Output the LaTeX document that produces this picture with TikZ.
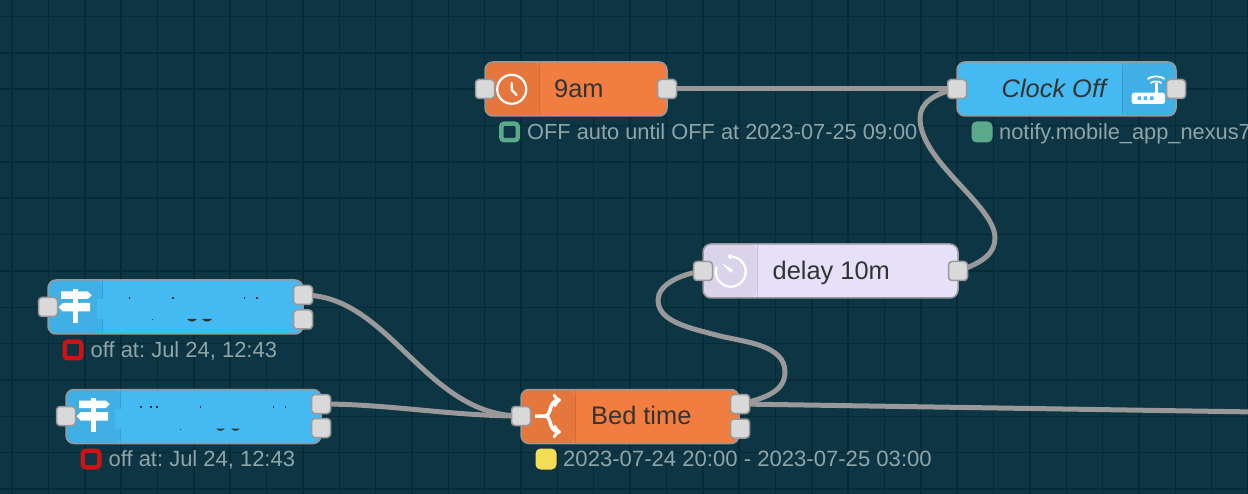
\documentclass[tikz,border=0pt]{standalone}
\usepackage{fontspec}
\setmainfont{Liberation Sans}
\frenchspacing
\usetikzlibrary{backgrounds}
\definecolor{bgteal}{HTML}{0D3543}
\definecolor{gridteal}{HTML}{072B36}
\definecolor{wiregrey}{HTML}{999999}
\definecolor{portgrey}{HTML}{D9D9D9}
\definecolor{nodeorange}{HTML}{F27D40}
\definecolor{nodeblue}{HTML}{44B9F2}
\definecolor{nodelilac}{HTML}{E6E0F8}
\definecolor{statusgreen}{HTML}{5BA98C}
\definecolor{statusred}{HTML}{CC1414}
\definecolor{statusyellow}{HTML}{F5DC55}
\definecolor{statustext}{HTML}{8FA5A7}
\definecolor{labeltext}{HTML}{333333}
\tikzset{
  nodebox/.style={draw=wiregrey, line width=1.5pt, rounded corners=8pt, inner sep=0pt, outer sep=0pt, minimum height=54pt},
  bandleft/.style={path picture={
    \fill[black, fill opacity=0.05] (path picture bounding box.north west) rectangle ([xshift=#1]path picture bounding box.south west);
    \draw[black, opacity=0.12, line width=1pt] ([xshift=#1]path picture bounding box.north west) -- ([xshift=#1]path picture bounding box.south west);}},
  bandright/.style={path picture={
    \fill[black, fill opacity=0.05] (path picture bounding box.north east) rectangle ([xshift=-#1]path picture bounding box.south east);
    \draw[black, opacity=0.12, line width=1pt] ([xshift=-#1]path picture bounding box.north east) -- ([xshift=-#1]path picture bounding box.south east);}},
  port/.style={draw=wiregrey, fill=portgrey, line width=1.5pt, rounded corners=3.5pt, minimum size=19pt, inner sep=0pt, outer sep=0pt},
  wire/.style={draw=wiregrey, line width=5pt},
  nodelabel/.style={anchor=base west, inner sep=0pt, text=labeltext, font=\fontsize{25.4}{25.4}\selectfont},
  statuslabel/.style={anchor=base west, inner sep=0pt, text=statustext, font=\fontsize{#1}{#1}\selectfont},
  statusdot/.style={fill=#1, rounded corners=5pt, minimum size=21pt, inner sep=0pt},
  statusring/.style={draw=#1, fill=bgteal, line width=4.5pt, rounded corners=3pt, minimum size=16.5pt, inner sep=0pt},
  icon/.style={draw=white, line width=2.2pt},
  speck/.style={fill=labeltext},
  signpost/.pic={
    \fill[white] (-2.5,-17) rectangle (2.5,17);
    \fill[white] (-14.5,-14.5) -- (12,-14.5) -- (16,-10.7) -- (12,-7) -- (-14.5,-7) -- cycle;
    \fill[white] (14.5,-3) -- (-13,-3) -- (-17,1.2) -- (-13,5.5) -- (14.5,5.5) -- cycle;
  }
}
\begin{document}
\begin{tikzpicture}[x=1pt, y=-1pt]
\useasboundingbox (0,0) rectangle (1248,494);

\node[nodebox, fill=nodeorange, minimum width=182pt, bandleft=54pt] (nineam) at (576,89) {};
\node[nodebox, fill=nodeblue, minimum width=219pt, bandright=54pt] (clockoff) at (1066.5,89) {};
\node[nodebox, fill=nodelilac, minimum width=255pt, bandleft=54pt] (delay) at (830.5,271) {};
\node[nodebox, fill=nodeorange, minimum width=218pt, bandleft=54pt] (bedtime) at (630,416.5) {};
\node[nodebox, fill=nodeblue, minimum width=255pt, bandleft=54.5pt] (switchone) at (175.5,307) {};
\node[nodebox, fill=nodeblue, minimum width=255pt, bandleft=54.5pt] (switchtwo) at (193.5,416.5) {};

\node[port] (nineamin) at (485,89) {};
\node[port] (nineamout) at (667,89) {};
\node[port] (clockin) at (957,89) {};
\node[port] (clockout) at (1176,89) {};
\node[port] (delayin) at (703,271) {};
\node[port] (delayout) at (958,271) {};
\node[port] (bedin) at (521,416) {};
\node[port] (bedouta) at (740,404) {};
\node[port] (bedoutb) at (740,428.5) {};
\node[port] (switchonein) at (48,307) {};
\node[port] (switchoneouta) at (303,295) {};
\node[port] (switchoneoutb) at (303,319.5) {};
\node[port] (switchtwoin) at (66,416) {};
\node[port] (switchtwoouta) at (321,404) {};
\node[port] (switchtwooutb) at (321,428) {};
\coordinate (offpage) at (1256,412);

\begin{pgfonlayer}{background}
\fill[bgteal] (0,0) rectangle (1248,494);
\foreach \gx in {0,...,34} \draw[gridteal, line width=1.5pt] ({12.1+36.35*\gx},0) -- ({12.1+36.35*\gx},494);
\foreach \gy in {0,...,13} \draw[gridteal, line width=1.5pt] (0,{16.5+36.35*\gy}) -- (1248,{16.5+36.35*\gy});
\draw[wire] (nineamout.center) -- (clockin.center);
\draw[wire] (delayout.center) .. controls (985,262) and (995,252) .. (995,238) .. controls (995,205) and (920,162) .. (920,118) .. controls (920,103) and (935,93) .. (clockin.center);
\draw[wire] (bedouta.center) .. controls (768,398) and (785,390) .. (785,372) .. controls (785,345) and (745,342) .. (720,336) .. controls (690,328) and (658,322) .. (658,300) .. controls (658,285) and (680,274) .. (delayin.center);
\draw[wire] (switchoneouta.center) .. controls (390,295) and (425,416) .. (bedin.center);
\draw[wire] (switchtwoouta.center) .. controls (390,404) and (450,416) .. (bedin.center);
\draw[wire] (bedouta.center) -- (offpage);
\end{pgfonlayer}

\node[nodelabel] (nineamtext) at (554,97.5) {9am};
\node[nodelabel, font=\fontsize{25.4}{25.4}\selectfont\itshape] (clocktext) at (1001.5,97.5) {Clock Off};
\node[nodelabel] (delaytext) at (772.5,279.5) {delay 10m};
\node[nodelabel] (bedtext) at (591,424.5) {Bed time};

\node[statusring=statusgreen] (nineamdot) at (509.5,132) {};
\node[statuslabel=21.8] (nineamstatus) at (527,139.5) {OFF auto until OFF at 2023-07-25 09:00};
\node[statusdot=statusgreen] (clockdot) at (982,132) {};
\node[statuslabel=21.8] (clockstatus) at (999,139.5) {notify.mobile\_app\_nexus7};
\node[statusring=statusred] (switchonedot) at (73,350) {};
\node[statuslabel=21.95] (switchonestatus) at (90.5,357.5) {off at: Jul 24, 12:43};
\node[statusring=statusred] (switchtwodot) at (91,459) {};
\node[statuslabel=21.95] (switchtwostatus) at (108.5,466.5) {off at: Jul 24, 12:43};
\node[statusdot=statusyellow] (beddot) at (546,459) {};
\node[statuslabel=22.1] (bedstatus) at (563,466.5) {2023-07-24 20:00 - 2023-07-25 03:00};

\draw[icon] (511.7,89.3) circle[radius=14.5pt];
\draw[icon, line cap=round, line join=round] (511.7,83) -- (511.7,90) -- (516.7,95);

\fill[white, rounded corners=2.5pt] (1131.7,92.7) rectangle (1165,104);
\fill[nodeblue] (1137.5,96.5) rectangle (1141,100) (1143.5,96.5) rectangle (1147,100) (1150,96.5) rectangle (1153.5,100);
\fill[white] (1154.5,83.5) rectangle (1157.5,93);
\draw[icon, line width=1.8pt] (1147.5,79) .. controls (1152,75.5) and (1160,75.5) .. (1164.5,79);
\draw[icon, line width=1.8pt] (1150.5,83) .. controls (1153,81) and (1159,81) .. (1161.5,83);

\draw[icon] (733.3,256.9) arc[start angle=80, end angle=-200, radius=15pt];
\fill[white] (730.5,256.5) circle[radius=2.3pt];
\fill[white] (721.5,263) -- (733,270) -- (731,273) -- cycle;

\draw[white, line width=3.5pt, -to] (535,416) -- (545,416) .. controls (552,416) and (548,401) .. (561,400);
\draw[white, line width=3.5pt, -to] (545,416) .. controls (552,416) and (548,431) .. (561,432);

\pic at (75.7,306) {signpost};
\pic at (93.7,415) {signpost};

\fill[nodeblue] (96.7,299.3) rectangle (102.9,319);
\fill[nodeblue] (114.7,409) rectangle (120.9,428.7);

\fill[speck] (128.7,297.5) rectangle (130.2,299);
\fill[speck] (172,297.5) rectangle (173.5,299);
\fill[speck] (243.7,297.5) rectangle (245.2,299);
\fill[speck] (256,297.5) rectangle (257.5,299);
\fill[speck] (151.5,319) rectangle (153,320.5);
\fill[speck] (187,319) .. controls (190,322.5) and (194,322.5) .. (197,319) -- cycle;
\fill[speck] (202,319) .. controls (205,322.5) and (209,322.5) .. (212,319) -- cycle;
\fill[speck] (140,406) rectangle (141.5,407.5);
\fill[speck] (150,406) rectangle (152,408);
\fill[speck] (156,406) rectangle (158,408);
\fill[speck] (199.5,406) rectangle (201,407.5);
\fill[speck] (272.5,406) rectangle (274,407.5);
\fill[speck] (284.5,406) rectangle (286,407.5);
\fill[speck] (179.5,428.5) rectangle (181,430);
\fill[speck] (216,428.5) .. controls (219,431.5) and (222,431.5) .. (225,428.5) -- cycle;
\fill[speck] (231,428.5) .. controls (234,431.5) and (237,431.5) .. (240,428.5) -- cycle;
\end{tikzpicture}
\end{document}
